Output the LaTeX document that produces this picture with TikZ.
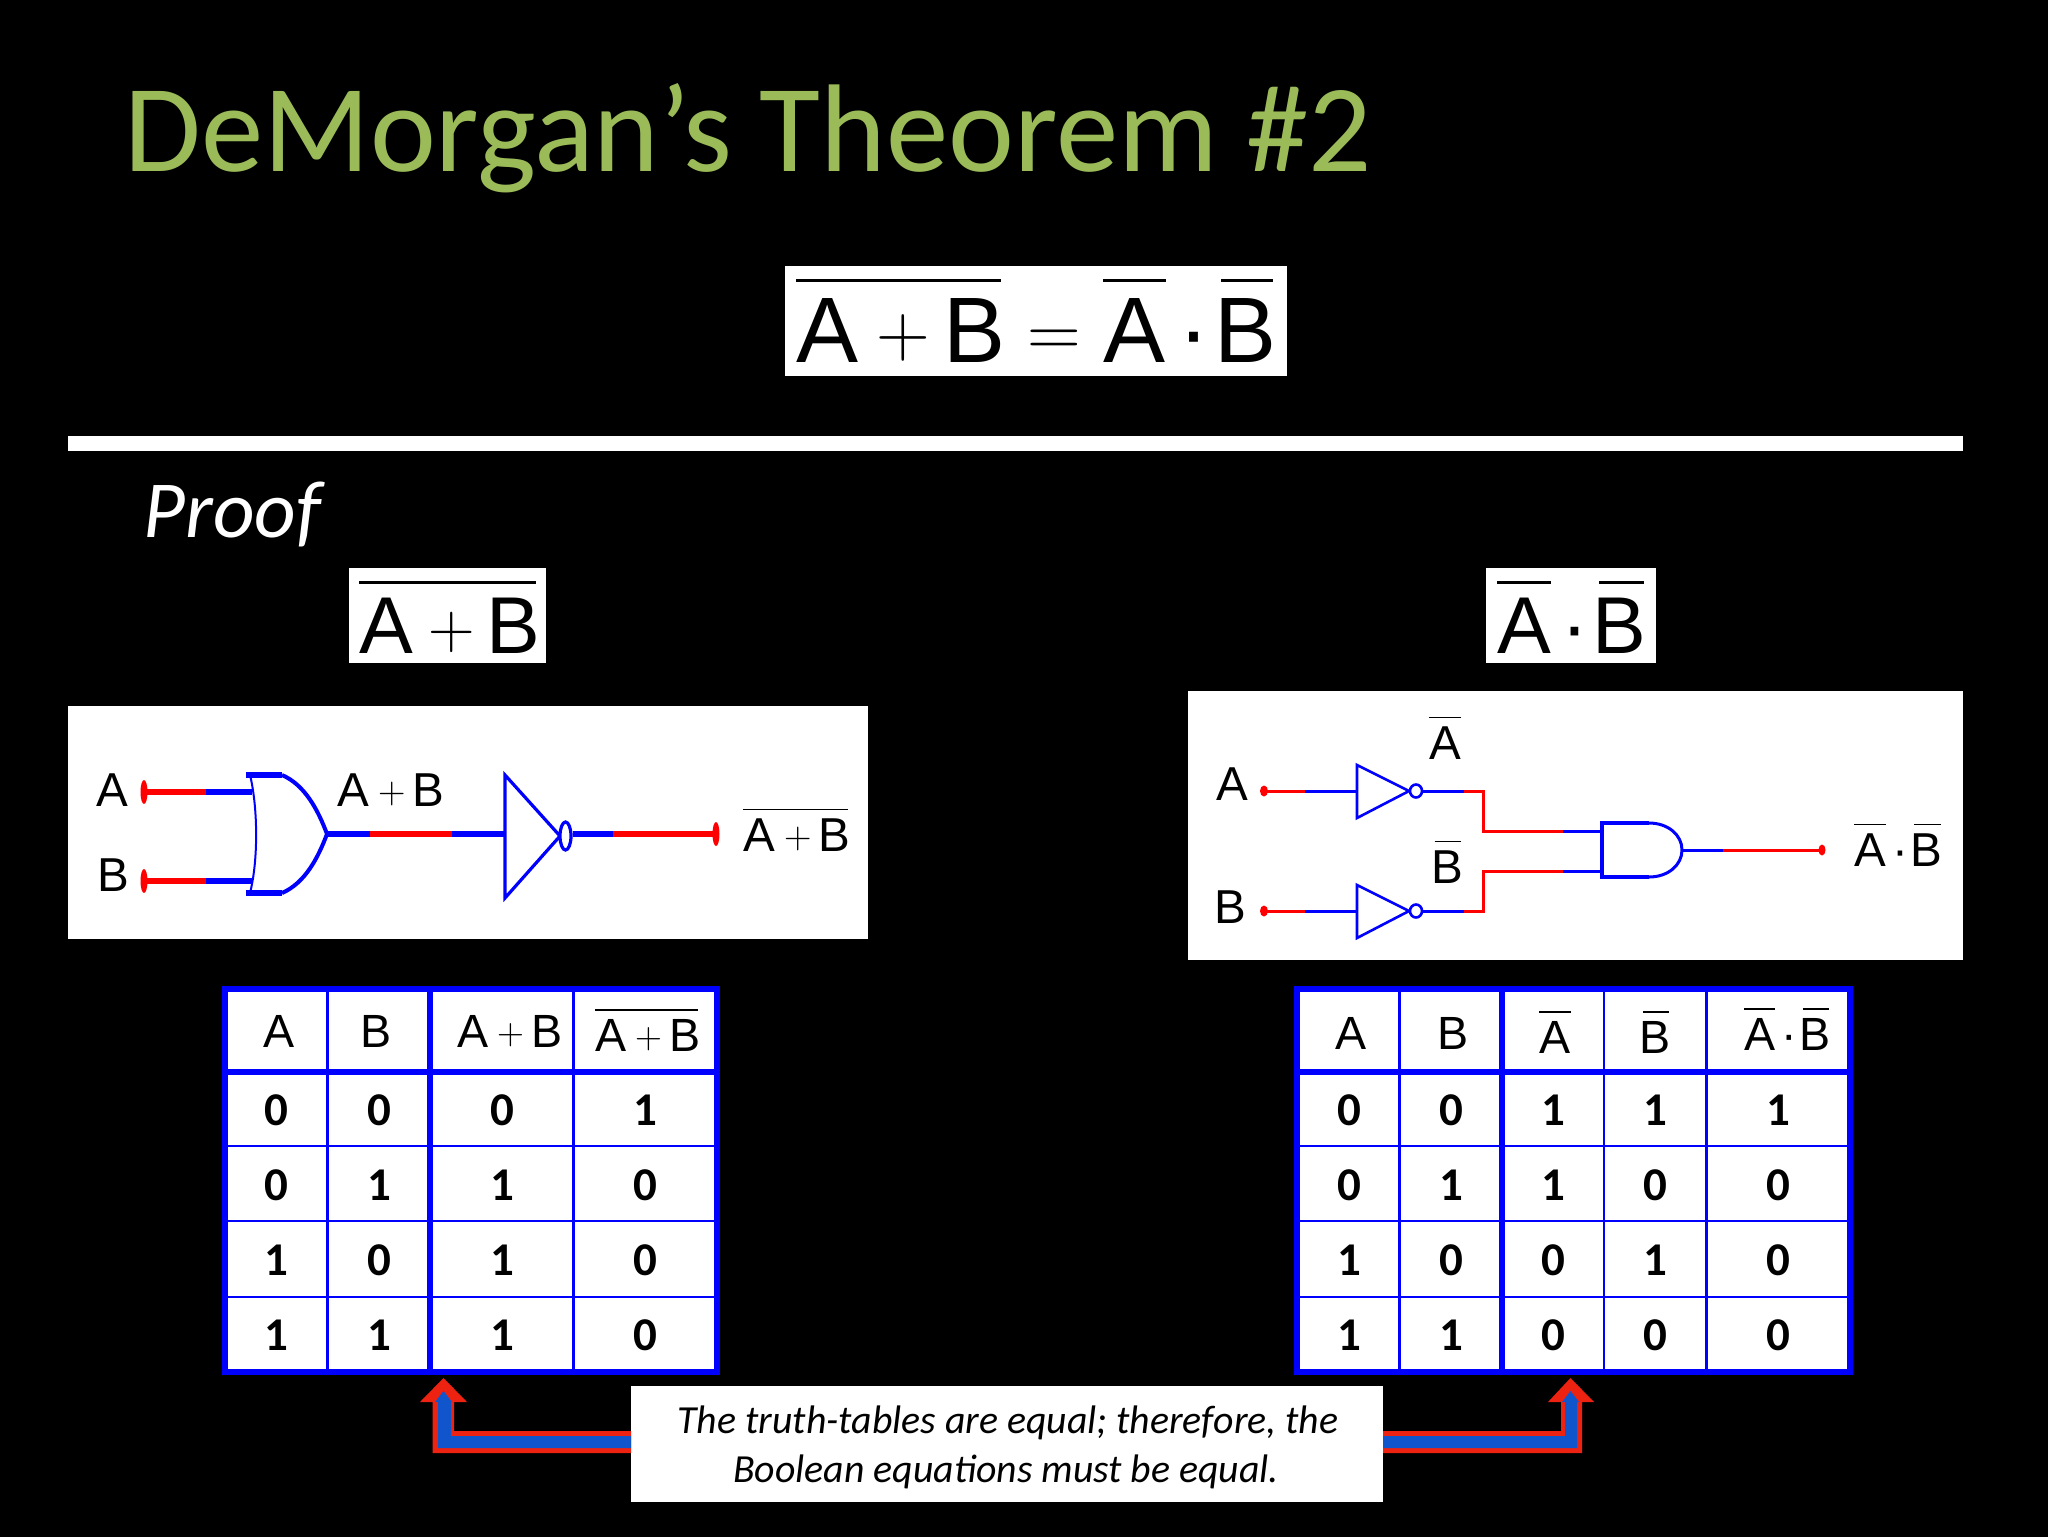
\documentclass[tikz,border=0pt]{standalone}
\usepackage{fontspec}
\setmainfont{Liberation Sans}
\newfontfamily\carl{Carlito}
\newcommand{\fsz}[1]{\fontsize{#1bp}{#1bp}\selectfont}
\newcommand{\ovl}[1]{\leavevmode\vbox{\offinterlineskip\hrule height .035em\kern .17em\hbox{#1}}}
\newcommand{\ovlB}{\leavevmode\vbox{\offinterlineskip\hbox{\kern.075em\vrule width .56em height .035em}\kern .17em\hbox{B}}}
\newcommand{\plusg}{\raisebox{.055em}{\scalebox{.8}{\fontfamily{lmr}\selectfont +}}}
\newcommand{\eqg}{\raisebox{.055em}{\scalebox{.8}{\fontfamily{lmr}\selectfont =}}}
\newcommand{\apb}{A\kern.2em\plusg\kern.14em B\kern-.05em}
\newcommand{\adb}{\ovl{A}\kern.14em·\kern.05em\ovlB}
\definecolor{titlegreen}{HTML}{9BBB59}
\definecolor{arrowred}{HTML}{EE2211}
\definecolor{arrowblue}{HTML}{1155CC}
\tikzset{
  txt/.style={anchor=base,inner sep=0pt,outer sep=0pt,text=black},
  txtw/.style={anchor=base west,inner sep=0pt,outer sep=0pt,text=black},
  dig/.style={txt,font=\carl\bfseries\fsz{23.5}},
  hd/.style={txt,font=\fsz{23.3}},
  lab/.style={txtw,font=\fsz{23.8}},
  panel/.style={fill=white,draw=none,inner sep=0pt,outer sep=0pt,anchor=north west},
  bw/.style={draw=blue,line width=#1},
  rw/.style={draw=red,line width=#1},
  tick/.style={fill=red,draw=none},
  frame/.style={draw=blue,line width=3bp},
  gridthin/.style={draw=blue,line width=1.3bp},
}
\newcommand{\panelbox}[5]{\node[panel,minimum width=#4*.5bp,minimum height=#5*.5bp] (#1) at (#2,#3) {};}
\begin{document}
\begin{tikzpicture}[x=.5bp,y=-.5bp]
\useasboundingbox (0,0) rectangle (2048,1536);
\fill[black] (-6,-6) rectangle (2054,1542);
% title
\node[anchor=base west,inner sep=0pt,text=titlegreen,font=\carl\fsz{62.4}] (title) at (124,171) {DeMorgan’s Theorem \#2};
% main formula
\panelbox{fbox}{784.5}{266}{502}{110}
\node[txtw,font=\fsz{46.5}] (formula) at (796,362) {\ovl{\apb}\kern.29em\eqg\kern.24em\ovl{A}\kern.14em·\kern.05em\ovlB};
% rule
\fill[white] (68,436) rectangle (1963,451);
\node[anchor=base west,inner sep=0pt,text=white,font=\carl\itshape\fsz{40.5}] (proof) at (143,537) {Proof};
% sub-formulas
\panelbox{lbox}{349}{568}{197}{95}
\node[txtw,font=\fsz{40.3}] (lform) at (359,653) {\ovl{\apb}};
\panelbox{rbox}{1486}{568}{170}{95}
\node[txtw,font=\fsz{40.3}] (rform) at (1497,653) {\adb};
% left circuit
\panelbox{lcirc}{68}{706}{800}{233}
\node[lab] (la) at (96,806) {A};
\node[lab] (lb) at (97,891) {B};
\node[lab] (lab) at (337,806) {\apb};
\node[lab] (lout) at (743,851) {\ovl{\apb}};
\coordinate (la0) at (144,792); \coordinate (la1) at (206,792); \coordinate (la2) at (252,792);
\coordinate (lb0) at (144,881); \coordinate (lb1) at (206,881); \coordinate (lb2) at (252,881);
\coordinate (orout) at (327,834); \coordinate (w1) at (370,834); \coordinate (w2) at (452,834); \coordinate (notin) at (505,834);
\coordinate (notout) at (573,834); \coordinate (w3) at (613,834); \coordinate (lend) at (716,834);
\draw[rw=2.8bp] (la0)--(la1); \draw[bw=2.8bp] (la1)--(la2);
\draw[rw=2.8bp] (lb0)--(lb1); \draw[bw=2.8bp] (lb1)--(lb2);
\fill[tick] (la0) ellipse [x radius=3.5,y radius=12];
\fill[tick] (lb0) ellipse [x radius=3.5,y radius=12];
\draw[draw=blue,line width=3bp] (246,775)--(282,775);
\draw[draw=blue,line width=3bp] (246,893)--(282,893);
\draw[draw=blue,line width=2bp] (282,775) .. controls (305,785) and (318,810) .. (orout) .. controls (318,858) and (305,883) .. (282,893);
\draw[draw=blue,line width=1bp] (250.5,777) .. controls (258,810) and (258,860) .. (250.5,891);
\draw[bw=2.8bp] (orout)--(w1); \draw[rw=2.8bp] (w1)--(w2); \draw[bw=2.8bp] (w2)--(notin);
\draw[bw=1.6bp] (505,775)--(560,836)--(505,898)--cycle;
\draw[draw=blue,line width=1.6bp,fill=white] (565.5,836) ellipse [x radius=5.5,y radius=14];
\draw[bw=2.8bp] (notout)--(w3); \draw[rw=2.8bp] (w3)--(lend);
\fill[tick] (lend) ellipse [x radius=3.5,y radius=12];
% right circuit
\panelbox{rcirc}{1188}{691}{775}{269}
\node[lab] (ra) at (1216,800) {A};
\node[lab] (rb) at (1214,923) {B};
\node[lab] (rna) at (1429,759) {\ovl{A}};
\node[lab] (rnb) at (1431,883) {\ovlB};
\node[lab] (rout) at (1854,866) {\adb};
\coordinate (ra0) at (1264,791); \coordinate (ra1) at (1305,791); \coordinate (ra2) at (1357,791);
\coordinate (ra3) at (1423,791); \coordinate (ra4) at (1464,791); \coordinate (ra5) at (1483,791);
\coordinate (ra6) at (1483,831); \coordinate (ra7) at (1563,831); \coordinate (ra8) at (1602,831);
\coordinate (rb0) at (1264,911); \coordinate (rb1) at (1305,911); \coordinate (rb2) at (1357,911);
\coordinate (rb3) at (1423,911); \coordinate (rb4) at (1464,911); \coordinate (rb5) at (1483,911);
\coordinate (rb6) at (1483,871); \coordinate (rb7) at (1563,871); \coordinate (rb8) at (1602,871);
\coordinate (andout) at (1682,850); \coordinate (ro1) at (1723,850); \coordinate (ro2) at (1822,850);
\draw[rw=1.5bp] (ra0)--(ra1); \draw[bw=1.5bp] (ra1)--(ra2);
\draw[rw=1.5bp] (rb0)--(rb1); \draw[bw=1.5bp] (rb1)--(rb2);
\fill[tick] (ra0) ellipse [x radius=4,y radius=5.5];
\fill[tick] (rb0) ellipse [x radius=4,y radius=5.5];
\draw[bw=1.3bp] (1357,765)--(1409,791)--(1357,818)--cycle;
\draw[bw=1.3bp] (1357,885)--(1409,911)--(1357,938)--cycle;
\draw[draw=blue,line width=1.3bp,fill=white] (1416,791) ellipse [x radius=6,y radius=6.5];
\draw[draw=blue,line width=1.3bp,fill=white] (1416,911) ellipse [x radius=6,y radius=6.5];
\draw[bw=1.5bp] (ra3)--(ra4); \draw[rw=1.5bp] (ra4)--(ra5)--(ra6)--(ra7); \draw[bw=1.5bp] (ra7)--(ra8);
\draw[bw=1.5bp] (rb3)--(rb4); \draw[rw=1.5bp] (rb4)--(rb5)--(rb6)--(rb7); \draw[bw=1.5bp] (rb7)--(rb8);
\draw[bw=1.8bp] (1649,823)--(1602,823)--(1602,877)--(1649,877);
\draw[bw=1.5bp] (1649,823) .. controls (1668,823) and (1682,835) .. (andout) .. controls (1682,865) and (1668,877) .. (1649,877);
\draw[bw=1.5bp] (andout)--(ro1); \draw[rw=1.5bp] (ro1)--(ro2);
\fill[tick] (ro2) ellipse [x radius=3.5,y radius=5.5];
% left table
\fill[white] (222,986) rectangle (720,1375);
\foreach \yy in {1146,1221,1297} \draw[gridthin] (225,\yy)--(717,\yy);
\draw[draw=blue,line width=3bp] (225,1072)--(717,1072);
\draw[gridthin] (327.5,989)--(327.5,1372);
\draw[gridthin] (573.5,989)--(573.5,1372);
\draw[draw=blue,line width=3bp] (430,989)--(430,1372);
\draw[frame] (225,989) rectangle (717,1372);
\node[hd] (lh1) at (279.5,1047) {A};
\node[hd] (lh2) at (376.5,1047) {B};
\node[hd] (lh3) at (508.5,1047) {\apb};
\node[hd] (lh4) at (646.5,1051) {\ovl{\apb}};
\foreach \rn/\yy/\a/\b/\c/\d in {1/1125/0/0/0/1,2/1200/0/1/1/0,3/1275/1/0/1/0,4/1350/1/1/1/0}{
  \node[dig] (lr\rn a) at (276.5,\yy) {\a};
  \node[dig] (lr\rn b) at (379,\yy) {\b};
  \node[dig] (lr\rn c) at (502,\yy) {\c};
  \node[dig] (lr\rn d) at (645,\yy) {\d};
}
% right table
\fill[white] (1294,986) rectangle (1853,1375);
\foreach \yy in {1146,1221,1297} \draw[gridthin] (1297,\yy)--(1850,\yy);
\draw[draw=blue,line width=3bp] (1297,1072)--(1850,1072);
\draw[gridthin] (1399.5,989)--(1399.5,1372);
\draw[gridthin] (1604,989)--(1604,1372);
\draw[gridthin] (1706.5,989)--(1706.5,1372);
\draw[draw=blue,line width=3bp] (1502,989)--(1502,1372);
\draw[frame] (1297,989) rectangle (1850,1372);
\node[hd] (rh1) at (1351,1049) {A};
\node[hd] (rh2) at (1453.5,1049) {B};
\node[hd] (rh3) at (1555,1053) {\ovl{A}};
\node[hd] (rh4) at (1655,1053) {\ovlB};
\node[txtw,font=\fsz{23.3}] (rh5) at (1744,1050) {\adb};
\foreach \rn/\yy/\a/\b/\c/\d/\e in {1/1125/0/0/1/1/1,2/1200/0/1/1/0/0,3/1275/1/0/0/1/0,4/1350/1/1/0/0/0}{
  \node[dig] (rr\rn a) at (1349,\yy) {\a};
  \node[dig] (rr\rn b) at (1451.5,\yy) {\b};
  \node[dig] (rr\rn c) at (1553.5,\yy) {\c};
  \node[dig] (rr\rn d) at (1655.5,\yy) {\d};
  \node[dig] (rr\rn e) at (1778.5,\yy) {\e};
}
% note
\node[panel,minimum width=376bp,minimum height=58bp] (note) at (631,1386) {};
\node[anchor=base,inner sep=0pt,text=black,font=\carl\itshape\fsz{19.9}] (n1) at (1008,1433) {The truth-tables are equal; therefore, the};
\node[anchor=base,inner sep=0pt,text=black,font=\carl\itshape\fsz{19.9}] (n2) at (1006,1482) {Boolean equations must be equal.};
% block arrows
\coordinate (ltip) at (443.5,1378); \coordinate (rtip) at (1570.5,1378);
\fill[arrowred] (ltip)--(467,1402)--(454,1402)--(454,1431)--(note.west |- 0,1431)--(note.west |- 0,1453)--(432.5,1453)--(432.5,1402)--(420,1402)--cycle;
\fill[arrowblue] (443.5,1391)--(452,1402)--(451,1402)--(451,1436)--(note.west |- 0,1436)--(note.west |- 0,1448)--(438,1448)--(438,1402)--(435,1402)--cycle;
\fill[arrowred] (rtip)--(1594,1402)--(1582,1402)--(1582,1453)--(note.east |- 0,1453)--(note.east |- 0,1431)--(1561,1431)--(1561,1402)--(1548,1402)--cycle;
\fill[arrowblue] (1570.5,1391)--(1579,1402)--(1577,1402)--(1577,1448)--(note.east |- 0,1448)--(note.east |- 0,1436)--(1565,1436)--(1565,1402)--(1562,1402)--cycle;
\end{tikzpicture}
\end{document}
